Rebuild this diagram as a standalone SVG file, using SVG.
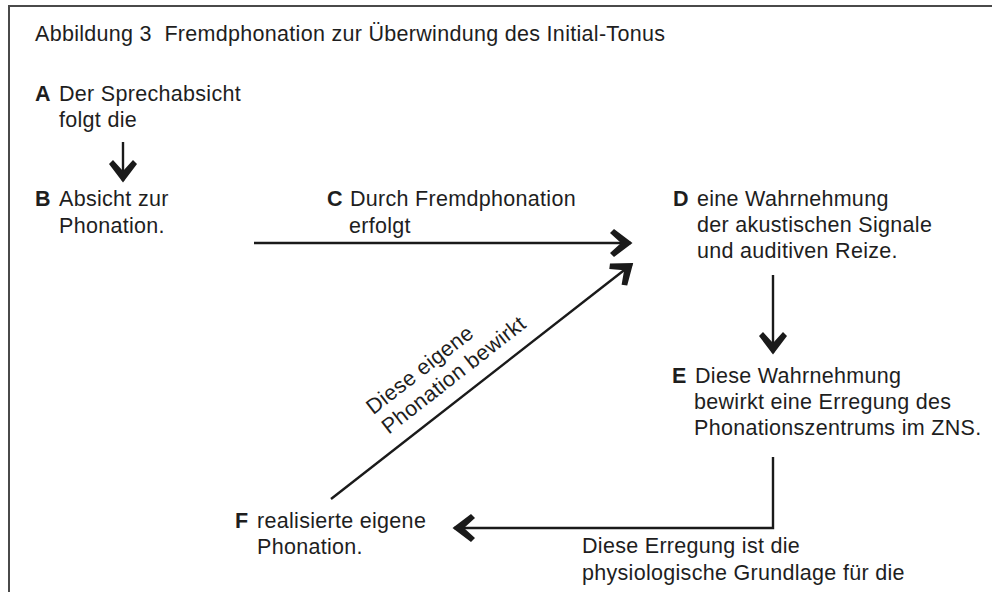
<svg xmlns="http://www.w3.org/2000/svg" width="992" height="592" viewBox="0 0 992 592">
<defs>
<style>
text{font-family:"Liberation Sans",Arial,sans-serif;font-size:21.5px;letter-spacing:0.3px;fill:#1e1e1e}
.b{font-weight:bold}
.ln{stroke:#1a1a1a;fill:none;stroke-width:2.4}
</style>
<marker id="ah" markerUnits="userSpaceOnUse" orient="auto" markerWidth="30" markerHeight="30" refX="0" refY="0" viewBox="-22 -15 24 30" overflow="visible">
<path d="M1.5,0 L-17,-14 L-21,-10 L-10,0 L-21,10 L-17,14 Z" fill="#1a1a1a"/>
</marker>
</defs>
<rect width="992" height="592" fill="#ffffff"/>
<path d="M9,592 V6 H992" fill="none" stroke="#4a4a4a" stroke-width="2"/>
<text x="35" y="41" style="white-space:pre">Abbildung 3  Fremdphonation zur Überwindung des Initial-Tonus</text>
<g id="nodeA">
<text x="35" y="101" class="b">A</text>
<text x="59" y="101">Der Sprechabsicht</text>
<text x="59" y="127">folgt die</text>
</g>
<g id="nodeB">
<text x="35" y="206" class="b">B</text>
<text x="59" y="206">Absicht zur</text>
<text x="59" y="233">Phonation.</text>
</g>
<g id="nodeC">
<text x="327" y="206" class="b">C</text>
<text x="350" y="206">Durch Fremdphonation</text>
<text x="349" y="233">erfolgt</text>
</g>
<g id="nodeD">
<text x="673" y="206" class="b">D</text>
<text x="697" y="206">eine Wahrnehmung</text>
<text x="697" y="232">der akustischen Signale</text>
<text x="697" y="258">und auditiven Reize.</text>
</g>
<g id="nodeE">
<text x="672" y="383" class="b">E</text>
<text x="695" y="383">Diese Wahrnehmung</text>
<text x="694" y="409">bewirkt eine Erregung des</text>
<text x="694" y="435">Phonationszentrums im ZNS.</text>
</g>
<g id="nodeF">
<text x="235" y="528" class="b">F</text>
<text x="257" y="528">realisierte eigene</text>
<text x="257" y="554">Phonation.</text>
</g>
<g id="nodeG">
<text x="582" y="553">Diese Erregung ist die</text>
<text x="582" y="580">physiologische Grundlage für die</text>
</g>
<g id="connectors">
<line class="ln" x1="123" y1="142" x2="123" y2="181" marker-end="url(#ah)"/>
<line class="ln" x1="254" y1="243" x2="631" y2="243" stroke-width="3" marker-end="url(#ah)"/>
<line class="ln" x1="773" y1="275" x2="773" y2="353" marker-end="url(#ah)"/>
<polyline class="ln" points="773,457 773,528 454,528" marker-end="url(#ah)"/>
<line class="ln" x1="331" y1="499" x2="632" y2="264" marker-end="url(#ah)"/>
<g transform="translate(331,499) rotate(-38)">
<text x="85" y="-40">Diese eigene</text>
<text x="85" y="-15">Phonation bewirkt</text>
</g>
</g>
</svg>
